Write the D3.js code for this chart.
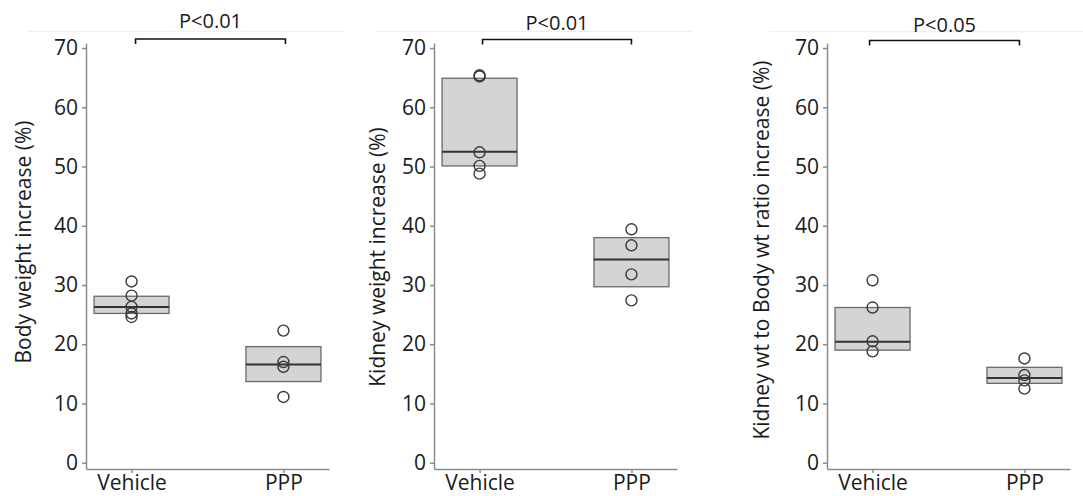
<!DOCTYPE html>
<html>
<head>
  <title>Weight increase</title>
  <style>
    body { margin: 0; background: #fff; }
    svg text { font-family: "Open Sans", "Noto Sans", sans-serif; fill: #1a1a1a; }
    .axis path, .axis line { stroke: #8c8c8c; stroke-width: 1.5px; }
  </style>
</head>
<body>
<svg width="1083" height="496" class="svg-chart"></svg>
<script src="https://cdnjs.cloudflare.com/ajax/libs/d3/7.8.5/d3.min.js"></script>
<script type="text/javascript">
  // categories and labels
  var groups = ['Vehicle', 'PPP']
  var yTicks = [0, 10, 20, 30, 40, 50, 60, 70]
  var yTitles = ['Body weight increase (%)',
                 'Kidney weight increase (%)',
                 'Kidney wt to Body wt ratio increase (%)']
  var pLabels = ['P<0.01', 'P<0.01', 'P<0.05']

  // individual points, per group (Vehicle, PPP)
  var bodyPoints = [[30.6, 28.2, 26.3, 25.2, 24.6], [22.3, 17.0, 16.2, 11.1]]
  var kidneyPoints = [[65.2, 65.4, 52.4, 50.1, 48.8], [39.4, 36.7, 31.8, 27.4]]
  var ratioPoints = [[30.8, 26.2, 20.5, 18.8], [17.6, 14.8, 13.9, 12.5]]

  // boxes: [lower, median, upper]
  var bodyBox = [[25.2, 26.3, 28.1], [13.7, 16.6, 19.6]]
  var kidneyBox = [[50.1, 52.5, 64.9], [29.7, 34.3, 38.0]]
  var ratioBox = [[19.0, 20.4, 26.2], [13.4, 14.3, 16.1]]

  var panels = [
    {left: 86, points: bodyPoints, box: bodyBox, titleX: 24, titleY: 242, brL: 4, brR: 2, brY: 39, pY: 28},
    {left: 434, points: kidneyPoints, box: kidneyBox, titleX: 378, titleY: 257, brL: 3, brR: 0, brY: 39.5, pY: 30},
    {left: 827, points: ratioPoints, box: ratioBox, titleX: 762, titleY: 250, brL: -3, brR: -5, brY: 40.5, pY: 32}
  ]

  var svg = d3.select('.svg-chart')
  var axisW = 243
  var boxHalf = 37.5

  var y = d3.scaleLinear()
            .domain([-1.06, 70.85])
            .range([469, 43])

  panels.forEach(function(p, i){
    var g = svg.append('g')

    // faint frame remnant at top
    g.append('line')
      .attr('x1', p.left - 58).attr('x2', p.left + axisW + 15)
      .attr('y1', 31.5).attr('y2', 31.5)
      .attr('stroke', '#f0f0f0')

    var x = d3.scalePoint()
              .domain(groups)
              .range([p.left, p.left + axisW])
              .padding(0.3)

    var yAxis = g.append('g')
      .attr('class', 'axis')
      .attr('transform', 'translate(' + p.left + ',0)')
      .call(d3.axisLeft(y).tickValues(yTicks).tickSize(4).tickPadding(4).tickSizeOuter(0))
    yAxis.selectAll('text').style('font-size', '21px')

    var xAxis = g.append('g')
      .attr('class', 'axis')
      .attr('transform', 'translate(0,469)')
      .call(d3.axisBottom(x).tickSize(4).tickPadding(2).tickSizeOuter(0))
    xAxis.selectAll('text').style('font-size', '21px')

    // y title
    g.append('text')
      .attr('transform', 'translate(' + p.titleX + ',' + p.titleY + ') rotate(-90)')
      .attr('text-anchor', 'middle')
      .attr('dy', '0.35em')
      .style('font-size', '21px')
      .text(yTitles[i])

    // boxes
    groups.forEach(function(grp, k){
      var b = p.box[k]
      var cx = x(grp)
      g.append('rect')
        .attr('x', cx - boxHalf)
        .attr('width', boxHalf * 2)
        .attr('y', y(b[2]))
        .attr('height', y(b[0]) - y(b[2]))
        .attr('fill', '#d4d4d4')
        .attr('stroke', '#6a6a6a')
        .attr('stroke-width', 1.3)
      g.append('line')
        .attr('x1', cx - boxHalf).attr('x2', cx + boxHalf)
        .attr('y1', y(b[1])).attr('y2', y(b[1]))
        .attr('stroke', '#333')
        .attr('stroke-width', 2)

      g.selectAll('circle.g' + k)
        .data(p.points[k])
        .enter()
        .append('circle')
        .attr('class', 'g' + k)
        .attr('cx', cx)
        .attr('cy', function(d){ return y(d) })
        .attr('r', 5.5)
        .attr('fill', 'none')
        .attr('stroke', '#3a3a3a')
        .attr('stroke-width', 1.4)
    })

    // significance bracket
    var x1 = x(groups[0]) + p.brL, x2 = x(groups[1]) + p.brR
    g.append('path')
      .attr('d', 'M' + x1 + ',' + (p.brY + 5) + 'V' + p.brY + 'H' + x2 + 'V' + (p.brY + 5))
      .attr('fill', 'none')
      .attr('stroke', '#111')
      .attr('stroke-width', 1.6)
    g.append('text')
      .attr('x', (x1 + x2) / 2)
      .attr('y', p.pY)
      .attr('text-anchor', 'middle')
      .style('font-size', '20px')
      .text(pLabels[i])
  })
</script>
</body>
</html>
